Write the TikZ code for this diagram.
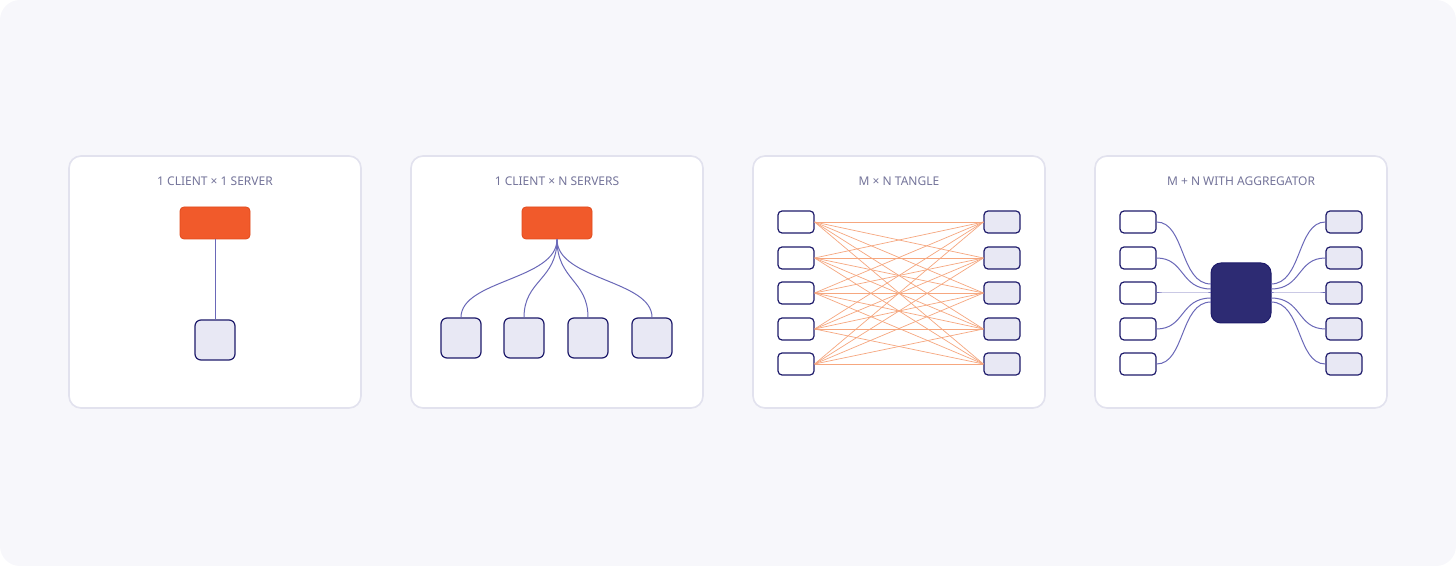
\documentclass[tikz,border=0pt]{standalone}
\usepackage{fontspec}
\setmainfont{Noto Sans}
\definecolor{bgc}{HTML}{F7F7FB}
\definecolor{edgec}{HTML}{E2E2EE}
\definecolor{titlec}{HTML}{74749A}
\definecolor{orangec}{HTML}{F15A2B}
\definecolor{orangeb}{HTML}{E04A1C}
\definecolor{navyc}{HTML}{1E1B6B}
\definecolor{lightc}{HTML}{E8E8F4}
\definecolor{linkc}{HTML}{6A68B8}
\definecolor{tanglec}{HTML}{F6A77F}
\definecolor{aggc}{HTML}{2D2B73}
\tikzset{
  panel/.style={draw=edgec, line width=0.8pt, fill=white, rounded corners=6pt},
  title/.style={font=\bfseries\fontsize{6}{7}\selectfont, text=titlec},
  client/.style={draw=orangeb, fill=orangec, line width=0.4pt, rounded corners=2pt, minimum width=35pt, minimum height=16pt, inner sep=0pt},
  server/.style={draw=navyc, fill=lightc, line width=0.6pt, rounded corners=3pt, minimum width=20pt, minimum height=20pt, inner sep=0pt},
  small/.style={draw=navyc, line width=0.6pt, rounded corners=2pt, minimum width=18pt, minimum height=11pt, inner sep=0pt},
  link/.style={draw=linkc, line width=0.5pt},
  tangle/.style={draw=tanglec, line width=0.35pt}
}
\begin{document}
\begin{tikzpicture}[x=0.5pt, y=-0.5pt]
  \fill[bgc, rounded corners=10pt] (0,0) rectangle (1456,566);
  \useasboundingbox (0,0) rectangle (1456,566);

  % panels
  \foreach \px/\txt in {69/1 CLIENT × 1 SERVER, 411/1 CLIENT × N SERVERS, 753/M × N TANGLE, 1095/M + N WITH AGGREGATOR} {
    \draw[panel] (\px,156) rectangle ++(292,252);
    \node[title] at (\px+146,181) {\txt};
  }

  % 1 x 1
  \node[client] (c1) at (215,223) {};
  \node[server] (s1) at (215,340) {};
  \draw[link] (c1) -- (s1);

  % 1 x N
  \node[client] (c2) at (557,223) {};
  \foreach \i/\sx in {1/461, 2/524, 3/588, 4/652} {
    \node[server] (s2\i) at (\sx,338) {};
    \draw[link] (c2.south) .. controls (557,280) and (\sx,280) .. (s2\i.north);
  }

  % M x N
  \foreach \i/\sy in {1/222, 2/258, 3/293, 4/329, 5/364} {
    \node[small, fill=white] (l\i) at (796,\sy) {};
    \node[small, fill=lightc] (r\i) at (1002,\sy) {};
  }
  \foreach \i in {1,...,5}
    \foreach \j in {1,...,5}
      \draw[tangle] (l\i.east) -- (r\j.west);

  % M + N
  \node[draw=navyc, fill=aggc, rounded corners=5pt, minimum size=30pt, line width=0.5pt] (agg) at (1241,293) {};
  \foreach \i/\sy/\ay in {1/222/284, 2/258/289, 3/293/293, 4/329/298, 5/364/302} {
    \node[small, fill=white] (ml\i) at (1138,\sy) {};
    \node[small, fill=lightc] (mr\i) at (1344,\sy) {};
    \coordinate (ai\i) at (1211,\ay);
    \coordinate (ao\i) at (1271,\ay);
    \draw[link] (ml\i.east) .. controls (1185,\sy) and (1180,\ay) .. (ai\i);
    \draw[link] (ao\i) .. controls (1302,\ay) and (1297,\sy) .. (mr\i.west);
  }
\end{tikzpicture}
\end{document}
